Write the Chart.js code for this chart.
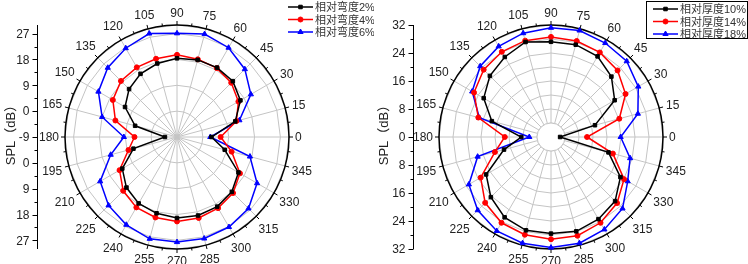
<!DOCTYPE html>
<html>
<head>
<meta charset="utf-8">
<script src="https://cdn.jsdelivr.net/npm/chart.js@4.4.1/dist/chart.umd.min.js"></script>
<style>
html, body { margin: 0; padding: 0; background: #fff; }
#wrap { position: relative; width: 748px; height: 264px; }
.panel { position: absolute; top: 0; width: 374px; height: 264px; }
</style>
</head>
<body>
<div id="wrap">
  <div class="panel" style="left:0"><canvas id="camber"></canvas></div>
  <div class="panel" style="left:374px"><canvas id="thick"></canvas></div>
</div>
<script>
// angles, counter-clockwise from 3 o'clock
var angleDeg = [0, 15, 30, 45, 60, 75, 90, 105, 120, 135, 150, 165, 180, 195, 210, 225, 240, 255, 270, 285, 300, 315, 330, 345];

// left plot: relative camber
var camberLabels = ['相对弯度2%', '相对弯度4%', '相对弯度6%'];
var camber2 = [3, 12, 16.5, 18.5, 18.9, 18.8, 18.4, 17.5, 16.4, 14.6, 11.9, 6.1, -4.8, 6.7, 13, 15.9, 17.7, 18.5, 19.2, 19.3, 19.0, 18.0, 15.7, 8.2];
var camber4 = [6.2, 12.4, 15.7, 17.7, 18.7, 19.0, 19.6, 19.2, 19.0, 18.6, 16.8, 13.2, 5.8, 8.5, 14.1, 17.5, 19.3, 20.0, 20.4, 20.2, 19.6, 18.6, 16.3, 10.7];
var camber6 = [2.6, 13.5, 20.7, 24.4, 26.9, 28.1, 27.1, 28.3, 26.7, 25.1, 22.6, 18.0, 9.5, 14.9, 21.9, 24.7, 26.3, 27.7, 27.6, 27.6, 27.2, 26.2, 23.2, 17.3];
var camberTicks = [-9, 0, 9, 18, 27];
var camberMinor = [-4.5, 4.5, 13.5, 22.5];

// right plot: relative thickness
var thickLabels = ['相对厚度10%', '相对厚度14%', '相对厚度18%'];
var thick10 = [2.6, 13.0, 21.0, 24.4, 26.6, 27.3, 27.2, 28.1, 26.4, 24.7, 22.2, 17.5, 8.5, 13.9, 21.4, 24.3, 26.5, 27.6, 27.6, 27.9, 27.1, 25.9, 22.9, 17.0];
var thick14 = [10.3, 20.2, 24.6, 26.9, 27.9, 28.4, 28.6, 28.5, 28.1, 27.2, 25.4, 21.5, 13.2, 16.6, 23.2, 26.6, 28.3, 28.9, 29.2, 29.2, 28.3, 26.7, 24.1, 18.3];
var thick18 = [19.9, 25.7, 28.8, 30.6, 31.0, 31.5, 31.2, 30.7, 29.9, 28.6, 26.0, 21.2, 6.2, 21.7, 27.1, 29.6, 31.0, 31.4, 31.6, 31.4, 30.5, 28.9, 25.3, 23.4];
var thickTicks = [0, 8, 16, 24, 32];
var thickMinor = [4, 12, 20, 28];

var FONT = '"Liberation Sans", Arial, "Noto Sans CJK SC", sans-serif';
var GRID = '#c4c4c4';

// radar goes clockwise, the plot goes counter-clockwise -> flip order
function reorder(arr) {
  return arr.map(function (v, i) { return arr[(arr.length - i) % arr.length]; });
}

function ds(label, data, color, style) {
  return {
    label: label,
    data: reorder(data),
    borderColor: color,
    backgroundColor: color,
    pointBackgroundColor: color,
    pointBorderColor: color,
    pointStyle: style,
    pointRadius: style === 'triangle' ? 3 : 2.5,
    pointBorderWidth: 1,
    borderWidth: 1.5,
    fill: false,
    tension: 0
  };
}

var decor = {
  id: 'decor',
  beforeDatasetsDraw: function (chart, args, o) {
    var r = chart.scales.r, ctx = chart.ctx;
    var cx = r.xCenter, cy = r.yCenter, R = r.getDistanceFromCenterForValue(r.max);
    ctx.save();

    if (o.hole != null) {
      var h = r.getDistanceFromCenterForValue(o.hole);
      ctx.fillStyle = '#fff';
      ctx.beginPath(); ctx.arc(cx, cy, h, 0, 2 * Math.PI); ctx.fill();
      ctx.strokeStyle = GRID; ctx.lineWidth = 1; ctx.stroke();
    }

    // outer ring with ticks
    ctx.strokeStyle = '#000';
    ctx.lineWidth = 1.5;
    ctx.beginPath(); ctx.arc(cx, cy, R, 0, 2 * Math.PI); ctx.stroke();
    ctx.lineWidth = 1;
    for (var a = 0; a < 360; a += 7.5) {
      var t = a * Math.PI / 180, len = (a % 15 === 0) ? 4 : 2.5;
      ctx.beginPath();
      ctx.moveTo(cx + Math.cos(t) * R, cy - Math.sin(t) * R);
      ctx.lineTo(cx + Math.cos(t) * (R + len), cy - Math.sin(t) * (R + len));
      ctx.stroke();
    }

    // angle labels
    ctx.font = '12px ' + FONT;
    ctx.fillStyle = '#222';
    ctx.textAlign = 'center';
    ctx.textBaseline = 'middle';
    chart.data.labels.forEach(function (lb, i) {
      var ang = r.getIndexAngle(i) - Math.PI / 2;
      var w = ctx.measureText(lb).width;
      var d = R + 6 + Math.abs(Math.cos(ang)) * w / 2 + Math.abs(Math.sin(ang)) * 6;
      var p = r.getPointPosition(i, d);
      ctx.fillText(lb, p.x, p.y + 1);
    });

    // vertical SPL axis on the left
    var ax = o.axisX + 0.5;
    ctx.beginPath(); ctx.moveTo(ax, cy - R); ctx.lineTo(ax, cy + R); ctx.stroke();
    ctx.textAlign = 'right';
    o.major.forEach(function (v) {
      var dd = r.getDistanceFromCenterForValue(v);
      var ys = dd < 0.5 ? [cy] : [cy - dd, cy + dd];
      ys.forEach(function (y) {
        ctx.beginPath(); ctx.moveTo(ax - 5, Math.round(y) + 0.5); ctx.lineTo(ax, Math.round(y) + 0.5); ctx.stroke();
        ctx.fillText(String(v), ax - 8, y + 1);
      });
    });
    o.minor.forEach(function (v) {
      var dd = r.getDistanceFromCenterForValue(v);
      [cy - dd, cy + dd].forEach(function (y) {
        ctx.beginPath(); ctx.moveTo(ax - 3, Math.round(y) + 0.5); ctx.lineTo(ax, Math.round(y) + 0.5); ctx.stroke();
      });
    });

    // axis title
    ctx.save();
    ctx.translate(o.titleX, cy - 5);
    ctx.rotate(-Math.PI / 2);
    ctx.textAlign = 'center';
    ctx.font = '13px ' + FONT;
    ctx.fillText('SPL（dB）', 0, 0);
    ctx.restore();

    ctx.restore();
  },
  afterDraw: function (chart, args, o) {
    var ctx = chart.ctx, L = o.legend;
    ctx.save();
    if (L.box) {
      ctx.strokeStyle = '#000'; ctx.lineWidth = 1;
      ctx.strokeRect(L.box[0] + 0.5, L.box[1] + 0.5, L.box[2], L.box[3]);
    }
    ctx.font = '11px ' + FONT;
    ctx.textAlign = 'left';
    ctx.textBaseline = 'middle';
    chart.data.datasets.forEach(function (d, i) {
      var y = L.y + i * L.step;
      ctx.strokeStyle = d.borderColor; ctx.fillStyle = d.borderColor; ctx.lineWidth = 1.5;
      ctx.beginPath(); ctx.moveTo(L.x, y); ctx.lineTo(L.x + 25, y); ctx.stroke();
      ctx.lineWidth = 1;
      Chart.helpers.drawPoint(ctx, { pointStyle: d.pointStyle, radius: d.pointRadius, rotation: 0, borderWidth: 1 }, L.x + 12.5, y);
      ctx.fillStyle = '#333';
      ctx.fillText(d.label, L.x + 27, y + 1);
    });
    ctx.restore();
  }
};

function makePolar(id, labels, series, min, max, step, opts) {
  var colors = ['#000000', '#ff0000', '#0000ff'];
  var styles = ['rect', 'circle', 'triangle'];
  return new Chart(document.getElementById(id), {
    type: 'radar',
    data: {
      labels: reorder(angleDeg).map(String),
      datasets: series.map(function (s, i) { return ds(labels[i], s, colors[i], styles[i]); })
    },
    options: {
      responsive: true,
      maintainAspectRatio: false,
      animation: false,
      layout: { padding: { left: 65, right: 85, top: 25, bottom: 15 } },
      plugins: {
        legend: { display: false },
        tooltip: { enabled: false },
        decor: opts
      },
      scales: {
        r: {
          min: min,
          max: max,
          bounds: 'data',
          startAngle: 90,
          ticks: { display: false, stepSize: step, includeBounds: false },
          pointLabels: { display: false },
          grid: { color: GRID, lineWidth: 1 },
          angleLines: { color: GRID, lineWidth: 1 }
        }
      }
    },
    plugins: [decor]
  });
}

makePolar('camber', camberLabels, [camber2, camber4, camber6], -9, 30, 9, {
  axisX: 37, titleX: 11, major: camberTicks, minor: camberMinor, hole: null,
  legend: { x: 288, y: 7, step: 12.5, box: null }
});
makePolar('thick', thickLabels, [thick10, thick14, thick18], 0, 32, 4, {
  axisX: 39, titleX: 10, major: thickTicks, minor: thickMinor, hole: 4,
  legend: { x: 279, y: 9, step: 12.5, box: [272, 1, 101, 37] }
});
</script>
</body>
</html>
